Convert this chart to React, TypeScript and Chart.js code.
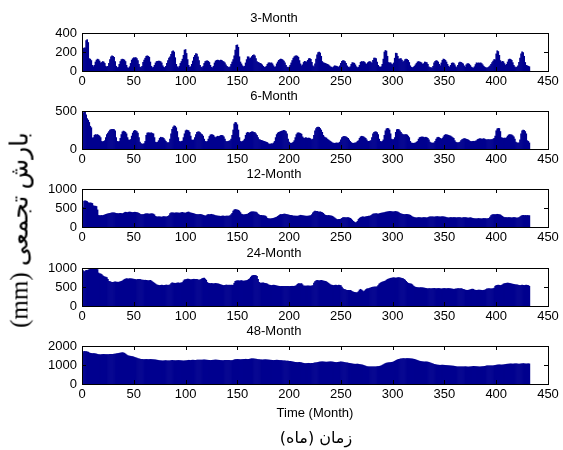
import React, { useEffect, useRef } from "react";
import { Chart, registerables } from "chart.js";

Chart.register(...registerables);

const months: number[] = Array.from({ length: 432 }, (_, i) => i + 1);

const titles = ["3-Month", "6-Month", "12-Month", "24-Month", "48-Month"];
const yMaxes = [400, 500, 1000, 1000, 2000];
const ySteps = [200, 500, 500, 500, 1000];
const xTickStep = 50;
const xMin = 0;
const xMax = 450;

const spi3 = [
  235, 240, 245, 320, 330, 300, 130, 125, 110, 60, 45, 60,
  95, 115, 125, 120, 105, 85, 90, 100, 95, 80, 50, 40,
  50, 80, 120, 150, 160, 155, 145, 100, 50, 35, 40, 70,
  100, 120, 125, 122, 115, 100, 60, 35, 30, 45, 80, 115,
  130, 140, 138, 142, 130, 110, 70, 40, 35, 50, 90, 115,
  135, 155, 160, 155, 145, 95, 50, 35, 40, 60, 85, 100,
  102, 105, 103, 98, 85, 55, 40, 35, 50, 80, 110, 135,
  150, 175, 205, 212, 200, 140, 70, 45, 35, 50, 80, 100,
  125, 165, 220, 226, 185, 120, 60, 40, 45, 70, 105, 145,
  165, 184, 178, 150, 110, 60, 40, 35, 50, 80, 100, 105,
  108, 102, 90, 60, 40, 35, 50, 85, 105, 112, 115, 112,
  108, 115, 112, 102, 96, 85, 65, 50, 40, 35, 45, 70,
  95, 120, 160, 220, 270, 275, 250, 150, 95, 75, 55, 45,
  50, 85, 120, 150, 148, 130, 138, 152, 165, 171, 160, 130,
  100, 90, 85, 80, 75, 65, 50, 40, 40, 50, 70, 85,
  87, 83, 86, 75, 55, 40, 45, 75, 95, 112, 120, 126,
  123, 116, 105, 85, 60, 40, 35, 40, 60, 85, 110, 135,
  150, 158, 161, 156, 145, 110, 75, 55, 65, 90, 102, 98,
  95, 112, 130, 132, 122, 90, 55, 45, 75, 125, 170, 195,
  199, 190, 155, 100, 88, 84, 80, 75, 70, 65, 55, 45,
  40, 35, 45, 55, 52, 50, 45, 40, 55, 80, 102, 109,
  106, 98, 80, 55, 40, 35, 45, 70, 88, 86, 82, 65,
  45, 35, 40, 60, 92, 100, 97, 100, 92, 78, 70, 88,
  97, 100, 93, 80, 112, 135, 137, 130, 95, 60, 45, 40,
  45, 70, 125, 200, 216, 210, 155, 90, 85, 87, 75, 68,
  85, 135, 188, 185, 155, 125, 128, 130, 115, 95, 105, 120,
  126, 122, 112, 90, 55, 40, 35, 40, 50, 65, 80, 95,
  100, 96, 92, 85, 70, 78, 95, 92, 88, 70, 45, 35,
  35, 30, 50, 85, 102, 109, 106, 95, 70, 55, 85, 112,
  126, 122, 112, 95, 70, 50, 40, 60, 82, 86, 82, 65,
  45, 35, 60, 87, 95, 92, 84, 75, 55, 40, 65, 76,
  78, 72, 58, 42, 35, 32, 45, 68, 86, 82, 86, 82,
  86, 78, 65, 50, 40, 35, 30, 35, 45, 55, 70, 88,
  105, 120, 118, 180, 213, 205, 165, 110, 95, 102, 97, 78,
  60, 70, 95, 120, 126, 122, 112, 88, 60, 45, 35, 40,
  55, 90, 135, 180, 202, 195, 155, 90, 60, 55, 50, 45,
];

const spi6 = [
  470, 500, 490, 450, 400, 380, 350, 300, 280, 145, 150, 180,
  190, 185, 190, 180, 170, 150, 100, 95, 100, 110, 150, 190,
  210, 230, 250, 255, 260, 260, 255, 240, 150, 100, 95, 100,
  140, 190, 225, 236, 230, 220, 200, 150, 120, 115, 125, 170,
  210, 235, 245, 240, 230, 210, 150, 90, 70, 64, 65, 70,
  100, 180, 210, 214, 212, 210, 214, 205, 200, 150, 90, 85,
  90, 110, 140, 155, 150, 150, 140, 120, 100, 85, 80, 85,
  130, 200, 260, 290, 305, 300, 280, 230, 150, 100, 95, 100,
  105, 150, 200, 240, 250, 245, 240, 220, 170, 120, 115, 120,
  150, 190, 220, 227, 225, 215, 200, 190, 170, 130, 100, 95,
  100, 130, 165, 185, 190, 188, 180, 160, 150, 160, 168, 165,
  170, 178, 180, 175, 160, 130, 100, 95, 100, 105, 110, 130,
  180, 250, 330, 350, 345, 320, 250, 150, 100, 95, 100, 110,
  130, 180, 210, 220, 215, 210, 220, 227, 225, 220, 215, 200,
  180, 150, 123, 120, 115, 110, 105, 100, 95, 90, 85, 70,
  64, 65, 70, 68, 80, 100, 150, 190, 210, 220, 225, 230,
  235, 240, 245, 240, 230, 200, 130, 90, 77, 75, 80, 90,
  110, 150, 190, 210, 214, 210, 205, 195, 160, 145, 140, 150,
  145, 140, 145, 140, 130, 120, 130, 180, 240, 270, 285, 290,
  285, 270, 250, 220, 180, 160, 150, 145, 130, 120, 110, 100,
  90, 80, 77, 75, 78, 80, 77, 80, 90, 120, 150, 160,
  168, 165, 160, 150, 140, 120, 100, 85, 77, 75, 78, 80,
  85, 100, 110, 140, 160, 168, 165, 160, 150, 140, 120, 100,
  100, 105, 110, 150, 200, 220, 227, 225, 215, 190, 130, 100,
  95, 100, 120, 180, 240, 265, 272, 268, 250, 200, 130, 123,
  125, 150, 220, 255, 259, 255, 240, 220, 200, 190, 185, 190,
  191, 185, 170, 150, 100, 80, 77, 75, 77, 80, 90, 100,
  130, 150, 155, 159, 158, 155, 150, 155, 150, 140, 120, 90,
  80, 77, 78, 80, 100, 130, 150, 155, 150, 140, 130, 140,
  160, 180, 190, 188, 185, 180, 175, 170, 160, 150, 140, 110,
  90, 85, 80, 85, 90, 110, 125, 130, 136, 135, 130, 125,
  120, 110, 100, 98, 100, 102, 100, 105, 110, 125, 130, 136,
  135, 130, 132, 136, 130, 125, 120, 123, 125, 120, 123, 125,
  130, 140, 170, 240, 265, 272, 270, 230, 150, 145, 140, 145,
  140, 150, 170, 185, 190, 188, 185, 175, 160, 130, 90, 80,
  78, 80, 120, 200, 240, 250, 245, 230, 200, 110, 100, 80,
];

const spi12 = [
  520, 680, 690, 680, 670, 640, 630, 635, 630, 620, 560, 550,
  548, 540, 450, 305, 300, 300, 305, 300, 310, 320, 330, 340,
  345, 350, 360, 365, 370, 374, 372, 365, 357, 355, 350, 357,
  360, 355, 350, 360, 380, 390, 385, 380, 390, 395, 390, 385,
  380, 385, 390, 385, 380, 370, 360, 340, 330, 330, 325, 335,
  345, 348, 350, 345, 340, 345, 350, 348, 340, 320, 280, 270,
  265, 270, 268, 265, 260, 270, 275, 270, 265, 270, 280, 300,
  350, 370, 374, 370, 365, 370, 374, 372, 370, 365, 370, 380,
  385, 374, 370, 365, 380, 390, 395, 380, 370, 365, 360, 350,
  340, 335, 330, 325, 330, 335, 330, 320, 310, 300, 290, 300,
  320, 330, 325, 330, 335, 325, 320, 310, 300, 295, 290, 287,
  285, 280, 287, 290, 285, 280, 285, 287, 290, 285, 300, 330,
  360, 420, 450, 461, 455, 450, 440, 420, 380, 340, 330, 320,
  325, 330, 335, 340, 360, 380, 395, 400, 400, 398, 395, 390,
  370, 340, 320, 310, 305, 300, 300, 295, 290, 270, 230, 220,
  217, 215, 220, 225, 230, 240, 250, 260, 280, 300, 320, 330,
  330, 335, 340, 338, 335, 330, 320, 315, 310, 305, 300, 290,
  290, 288, 287, 285, 290, 300, 310, 305, 300, 295, 290, 287,
  285, 287, 290, 295, 300, 330, 370, 400, 418, 415, 410, 400,
  395, 400, 390, 380, 360, 330, 310, 305, 300, 305, 300, 295,
  290, 280, 260, 240, 220, 200, 195, 200, 205, 210, 230, 245,
  250, 245, 240, 250, 245, 240, 230, 210, 180, 150, 130, 113,
  120, 150, 200, 230, 250, 260, 270, 265, 260, 270, 275, 280,
  285, 290, 300, 320, 340, 345, 348, 350, 345, 340, 350, 360,
  365, 370, 375, 380, 390, 395, 400, 405, 410, 410, 405, 400,
  400, 405, 410, 400, 395, 380, 360, 345, 340, 335, 330, 330,
  335, 330, 325, 320, 310, 290, 270, 260, 250, 245, 240, 245,
  250, 248, 245, 240, 245, 250, 248, 245, 240, 250, 260, 265,
  270, 268, 265, 260, 265, 270, 275, 270, 268, 265, 270, 272,
  270, 265, 260, 250, 245, 240, 245, 250, 248, 245, 250, 248,
  245, 240, 245, 250, 245, 240, 238, 245, 250, 248, 245, 240,
  235, 240, 245, 240, 230, 225, 220, 218, 217, 220, 225, 220,
  218, 215, 220, 225, 222, 220, 217, 220, 230, 260, 300, 320,
  330, 330, 325, 330, 335, 330, 325, 320, 300, 280, 260, 250,
  250, 248, 245, 250, 248, 245, 240, 245, 250, 245, 240, 235,
  240, 250, 270, 290, 300, 305, 300, 305, 300, 305, 300, 300,
];

const spi24 = [
  930, 900, 920, 940, 935, 945, 960, 980, 985, 970, 975, 980,
  985, 975, 960, 870, 850, 845, 830, 800, 780, 765, 760, 750,
  700, 650, 640, 630, 620, 625, 630, 635, 630, 628, 625, 630,
  640, 650, 660, 680, 700, 710, 720, 715, 712, 720, 718, 715,
  710, 705, 700, 695, 690, 700, 705, 700, 690, 685, 680, 675,
  680, 675, 670, 665, 670, 675, 660, 640, 620, 600, 580, 560,
  550, 545, 540, 545, 550, 545, 540, 545, 550, 548, 545, 550,
  560, 590, 610, 605, 600, 595, 600, 605, 610, 600, 605, 610,
  620, 660, 690, 695, 700, 710, 705, 700, 690, 695, 700, 705,
  700, 705, 700, 690, 685, 690, 700, 720, 730, 735, 710, 680,
  620, 600, 595, 590, 595, 590, 585, 590, 595, 590, 585, 580,
  570, 560, 550, 545, 540, 545, 550, 548, 545, 550, 545, 550,
  545, 550, 600, 650, 660, 665, 666, 660, 665, 670, 660, 655,
  660, 665, 670, 680, 700, 720, 760, 790, 800, 807, 805, 800,
  780, 700, 620, 605, 600, 605, 610, 600, 595, 590, 580, 560,
  550, 545, 540, 545, 550, 545, 540, 530, 525, 520, 517, 515,
  517, 520, 518, 515, 517, 520, 515, 510, 515, 517, 520, 518,
  520, 525, 540, 570, 590, 588, 585, 590, 560, 530, 527, 525,
  527, 530, 528, 525, 527, 530, 540, 600, 640, 660, 675, 670,
  665, 670, 675, 668, 660, 655, 650, 640, 620, 600, 580, 560,
  550, 545, 540, 545, 550, 545, 540, 550, 545, 540, 500, 460,
  440, 430, 420, 412, 415, 410, 412, 400, 380, 370, 360, 355,
  350, 355, 380, 420, 440, 420, 400, 380, 400, 430, 450, 455,
  460, 470, 480, 490, 495, 500, 505, 500, 510, 540, 580, 600,
  620, 630, 640, 650, 660, 680, 700, 710, 720, 730, 735, 740,
  745, 740, 735, 740, 745, 745, 740, 735, 730, 720, 700, 680,
  650, 620, 600, 590, 585, 580, 560, 530, 510, 495, 490, 485,
  482, 480, 485, 482, 480, 475, 470, 465, 460, 455, 458, 460,
  455, 458, 460, 462, 460, 455, 458, 462, 460, 455, 450, 455,
  460, 462, 458, 455, 460, 462, 458, 455, 450, 445, 440, 445,
  450, 455, 460, 458, 455, 460, 450, 440, 430, 420, 415, 412,
  415, 420, 430, 440, 445, 440, 420, 415, 412, 415, 420, 418,
  415, 412, 410, 415, 420, 430, 450, 455, 460, 455, 450, 455,
  460, 470, 520, 540, 545, 550, 545, 540, 545, 560, 580, 590,
  595, 600, 605, 600, 595, 590, 580, 575, 570, 565, 560, 555,
  550, 545, 540, 545, 550, 545, 540, 545, 550, 545, 540, 520,
];

const spi48 = [
  1650, 1720, 1710, 1700, 1690, 1680, 1640, 1620, 1610, 1600, 1605, 1600,
  1590, 1580, 1560, 1550, 1545, 1540, 1550, 1555, 1560, 1555, 1550, 1545,
  1550, 1555, 1560, 1565, 1560, 1565, 1570, 1580, 1590, 1600, 1610, 1620,
  1630, 1640, 1650, 1640, 1620, 1580, 1540, 1500, 1480, 1470, 1460, 1450,
  1440, 1420, 1400, 1380, 1360, 1340, 1320, 1310, 1300, 1295, 1290, 1285,
  1290, 1295, 1290, 1285, 1290, 1295, 1290, 1285, 1280, 1275, 1270, 1260,
  1250, 1240, 1230, 1225, 1220, 1215, 1220, 1225, 1230, 1225, 1220, 1215,
  1220, 1230, 1240, 1235, 1230, 1225, 1230, 1235, 1240, 1235, 1230, 1225,
  1220, 1215, 1220, 1225, 1230, 1240, 1250, 1245, 1240, 1250, 1255, 1250,
  1245, 1250, 1255, 1260, 1265, 1260, 1255, 1260, 1265, 1270, 1265, 1260,
  1255, 1250, 1245, 1240, 1245, 1250, 1255, 1260, 1265, 1260, 1255, 1250,
  1245, 1240, 1235, 1230, 1235, 1240, 1245, 1250, 1245, 1240, 1235, 1230,
  1235, 1250, 1270, 1285, 1290, 1295, 1290, 1285, 1280, 1285, 1290, 1295,
  1300, 1305, 1300, 1295, 1300, 1310, 1320, 1330, 1325, 1320, 1315, 1310,
  1300, 1290, 1280, 1275, 1270, 1265, 1270, 1275, 1280, 1275, 1270, 1265,
  1260, 1255, 1250, 1245, 1240, 1245, 1250, 1255, 1250, 1245, 1240, 1235,
  1230, 1225, 1220, 1215, 1210, 1205, 1200, 1195, 1190, 1180, 1170, 1160,
  1150, 1140, 1135, 1130, 1135, 1140, 1130, 1120, 1100, 1090, 1080, 1075,
  1080, 1085, 1090, 1085, 1080, 1085, 1090, 1100, 1110, 1120, 1130, 1140,
  1150, 1160, 1165, 1170, 1165, 1160, 1155, 1150, 1155, 1160, 1165, 1170,
  1165, 1160, 1150, 1140, 1135, 1130, 1140, 1150, 1160, 1165, 1160, 1150,
  1140, 1130, 1120, 1110, 1100, 1090, 1080, 1070, 1060, 1050, 1045, 1040,
  1045, 1050, 1040, 1030, 1020, 1010, 1000, 980, 960, 940, 920, 910,
  905, 900, 905, 910, 905, 900, 905, 910, 915, 920, 930, 940,
  960, 990, 1020, 1050, 1080, 1100, 1110, 1120, 1125, 1130, 1140, 1150,
  1170, 1200, 1230, 1260, 1280, 1300, 1310, 1320, 1330, 1340, 1335, 1330,
  1335, 1340, 1338, 1335, 1330, 1325, 1320, 1310, 1300, 1280, 1260, 1240,
  1220, 1200, 1190, 1180, 1170, 1165, 1160, 1165, 1160, 1150, 1140, 1120,
  1100, 1080, 1060, 1040, 1020, 1010, 1000, 995, 990, 985, 990, 995,
  990, 985, 980, 975, 970, 965, 960, 955, 950, 945, 940, 930,
  920, 910, 905, 900, 905, 910, 905, 900, 905, 910, 905, 900,
  895, 900, 905, 910, 920, 930, 925, 920, 915, 910, 905, 900,
  905, 910, 915, 920, 930, 940, 950, 955, 960, 955, 950, 955,
  960, 970, 980, 990, 1000, 1005, 1010, 1005, 1000, 1005, 1010, 1020,
  1030, 1040, 1045, 1050, 1055, 1060, 1055, 1050, 1055, 1060, 1065, 1060,
  1055, 1050, 1055, 1060, 1065, 1070, 1065, 1060, 1055, 1060, 1065, 1060,
];

const seriesList = [spi3, spi6, spi12, spi24, spi48];

const BAR_COLOR = "#00008F";
const FONT = "'Liberation Sans', Arial, Helvetica, sans-serif";
const CANVAS_W = 563;
const CANVAS_H = 84;
const canvasTops = [8, 86, 164, 243, 321];

const matlabAxes = {
  id: "matlabAxes",
  afterDatasetsDraw(chart: any) {
    const { ctx, chartArea: a, scales } = chart;
    const L = 4;
    ctx.save();
    ctx.strokeStyle = "#000";
    ctx.lineWidth = 1;
    ctx.beginPath();
    for (const t of scales.x.ticks) {
      const px = Math.round(scales.x.getPixelForValue(t.value)) + 0.5;
      ctx.moveTo(px, a.bottom);
      ctx.lineTo(px, a.bottom - L);
      ctx.moveTo(px, a.top);
      ctx.lineTo(px, a.top + L);
    }
    for (const t of scales.y.ticks) {
      const py = Math.round(scales.y.getPixelForValue(t.value)) + 0.5;
      ctx.moveTo(a.left, py);
      ctx.lineTo(a.left + L, py);
      ctx.moveTo(a.right, py);
      ctx.lineTo(a.right - L, py);
    }
    ctx.stroke();
    ctx.strokeRect(
      Math.round(a.left) + 0.5,
      Math.round(a.top) + 0.5,
      Math.round(a.right - a.left),
      Math.round(a.bottom - a.top)
    );
    ctx.restore();
  },
};

function SubPlot({ index }: { index: number }) {
  const ref = useRef<HTMLCanvasElement | null>(null);
  useEffect(() => {
    if (!ref.current) return;
    const values = seriesList[index];
    const chart = new Chart(ref.current, {
      type: "bar",
      data: {
        datasets: [
          {
            data: values.map((v, i) => ({ x: months[i], y: v })),
            backgroundColor: BAR_COLOR,
            borderWidth: 0,
            barPercentage: 1,
            categoryPercentage: 1,
          } as any,
        ],
      },
      options: {
        animation: false,
        responsive: false,
        devicePixelRatio: 1,
        layout: { padding: { left: 0, right: 15, top: 0, bottom: 0 } },
        plugins: {
          legend: { display: false },
          tooltip: { enabled: false },
          title: {
            display: true,
            text: titles[index],
            color: "#000",
            font: { family: FONT, size: 13, weight: "normal" as any },
            padding: { top: 2.4, bottom: 7 },
          },
        },
        scales: {
          x: {
            type: "linear",
            min: xMin,
            max: xMax,
            offset: false,
            grid: { display: false, drawTicks: false, offset: false },
            border: { display: false },
            ticks: {
              stepSize: xTickStep,
              color: "#000",
              font: { family: FONT, size: 13 },
              padding: 3,
              maxRotation: 0,
              autoSkip: false,
              callback: (v: any) => String(v),
            },
            afterFit: (s: any) => {
              s.height = 21;
            },
          },
          y: {
            min: 0,
            max: yMaxes[index],
            grid: { display: false, drawTicks: false },
            border: { display: false },
            ticks: {
              stepSize: ySteps[index],
              color: "#000",
              font: { family: FONT, size: 13 },
              padding: 5,
              callback: (v: any) => String(v),
            },
            afterFit: (s: any) => {
              s.width = 82;
            },
          },
        } as any,
      },
      plugins: [matlabAxes],
    });
    return () => chart.destroy();
  }, [index]);
  return (
    <canvas
      ref={ref}
      width={CANVAS_W}
      height={CANVAS_H}
      style={{ position: "absolute", left: 0, top: canvasTops[index], width: CANVAS_W, height: CANVAS_H }}
    />
  );
}

export default function App() {
  return (
    <div
      style={{
        position: "absolute",
        left: 0,
        top: 0,
        width: 563,
        height: 450,
        background: "#fff",
        overflow: "hidden",
      }}
    >
      {titles.map((_, i) => (
        <SubPlot key={i} index={i} />
      ))}
      <div
        style={{
          position: "absolute",
          left: 19,
          top: 230,
          transform: "translate(-50%, -50%) rotate(-90deg)",
          whiteSpace: "nowrap",
          direction: "rtl",
          fontFamily: "'Liberation Serif', 'DejaVu Sans', serif",
          fontSize: 25,
          lineHeight: 1,
          color: "#000",
        }}
      >
        بارش تجمعی (mm)
      </div>
      <div
        style={{
          position: "absolute",
          left: 315,
          top: 412,
          transform: "translate(-50%, -50%)",
          whiteSpace: "nowrap",
          fontFamily: FONT,
          fontSize: 13,
          lineHeight: 1,
          color: "#000",
        }}
      >
        Time (Month)
      </div>
      <div
        style={{
          position: "absolute",
          left: 316,
          top: 438,
          transform: "translate(-50%, -50%)",
          whiteSpace: "nowrap",
          direction: "rtl",
          fontFamily: "'DejaVu Sans', 'Liberation Serif', serif",
          fontSize: 16,
          lineHeight: 1,
          color: "#000",
        }}
      >
        زمان (ماه)
      </div>
    </div>
  );
}
